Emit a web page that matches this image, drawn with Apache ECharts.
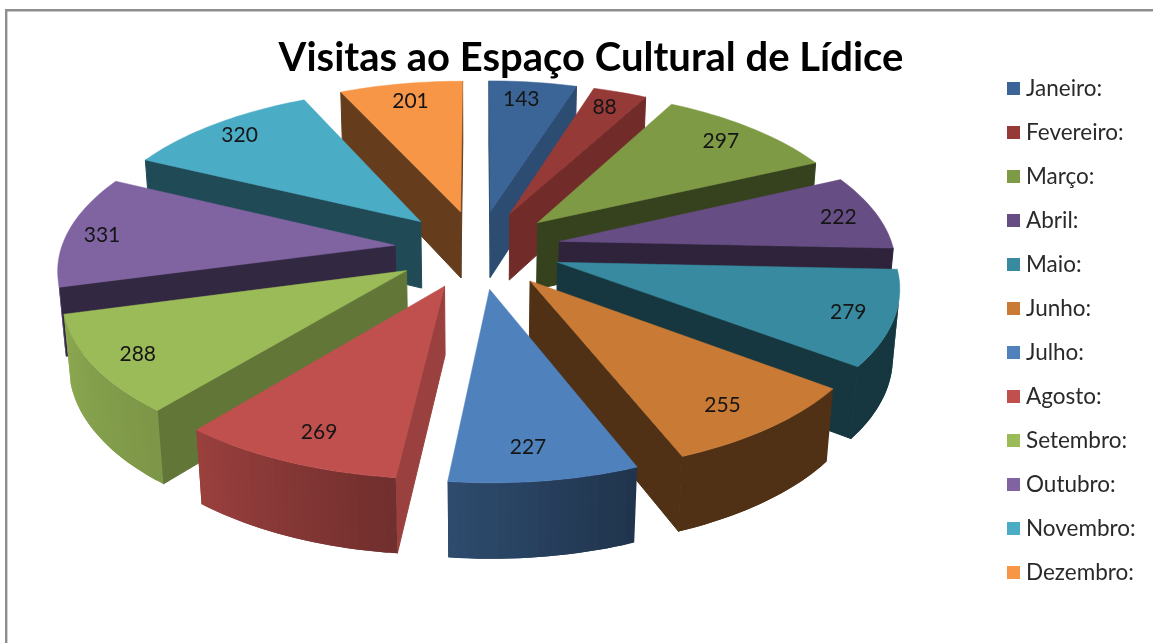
<!DOCTYPE html>
<html>
<head>
<meta charset="utf-8">
<style>
html, body { margin: 0; padding: 0; background: #fff; }
#main { width: 1153px; height: 643px; }
</style>
<script src="https://cdn.jsdelivr.net/npm/echarts@6/dist/echarts.min.js"></script>
</head>
<body>
<div id="main"></div>
<script>
var months = ['Janeiro:', 'Fevereiro:', 'Março:', 'Abril:', 'Maio:', 'Junho:', 'Julho:', 'Agosto:', 'Setembro:', 'Outubro:', 'Novembro:', 'Dezembro:'];
var visits = [143, 88, 297, 222, 279, 255, 227, 269, 288, 331, 320, 201];

var palette = ['#3B6596', '#963A38', '#7E9A45', '#664D84', '#378A9F', '#C97A35', '#4F81BD', '#C0504D', '#9BBB59', '#8064A2', '#4BACC6', '#F79646'];
// darkening of the flat cut faces, month by month
var sideShade = [0.75, 0.75, 0.43, 0.45, 0.4, 0.4, 0.4, 0.8, 0.63, 0.4, 0.43, 0.41];
// darkening of the round outer wall: [angle from north, factor]
var wallShade = [[0, 0.4], [158, 0.4], [186, 0.58], [219, 0.8], [255, 0.9], [360, 0.9]];
// small pixel nudges of the value labels off the slice's middle line
var labelNudge = [[-7, 2], [-3, 1], [-6, 2], [2, 2], [-2, 1], [-14, -2], [-9, -6], [10, -5], [3, 1], [-7, 2], [0, 0], [3, 3]];

// camera for the tilted pie
var CX = 478, CY = 249, SCALE = 417.5;
var TILT = 28 * Math.PI / 180, DIST = 5.4;
var EXPLODE = 0.2, RADIUS = 0.8, THICK = 0.186, LABEL_R = 0.9;

var total = visits.reduce(function (a, b) { return a + b; }, 0);

function project(u, v, w) {
    var depth = v * Math.cos(TILT) + w * Math.sin(TILT);
    var k = 1 / (1 - depth / DIST);
    return [CX + SCALE * u * k, CY + SCALE * (v * Math.sin(TILT) - w * Math.cos(TILT)) * k];
}

function shade(hex, f) {
    var n = parseInt(hex.slice(1), 16);
    var r = Math.round((n >> 16 & 255) * f), g = Math.round((n >> 8 & 255) * f), b = Math.round((n & 255) * f);
    return 'rgb(' + r + ',' + g + ',' + b + ')';
}

function wallFactor(deg) {
    for (var i = 1; i < wallShade.length; i++) {
        if (deg <= wallShade[i][0]) {
            var a = wallShade[i - 1], b = wallShade[i];
            return a[1] + (b[1] - a[1]) * (deg - a[0]) / (b[0] - a[0]);
        }
    }
    return 0.9;
}

function sliceAngles(index) {
    var before = 0;
    for (var i = 0; i < index; i++) before += visits[i];
    var a0 = before / total * Math.PI * 2;
    return { a0: a0, a1: a0 + visits[index] / total * Math.PI * 2 };
}

function renderSlice(params, api) {
    var idx = params.seriesIndex;
    var value = api.value(0);
    var ang = sliceAngles(idx);
    var mid = (ang.a0 + ang.a1) / 2;
    var ax = EXPLODE * Math.sin(mid), ay = -EXPLODE * Math.cos(mid);
    var color = palette[idx];
    var children = [];

    // outline walking clockwise seen from above: apex, arc, back to apex
    var rim = [[ax, ay]];
    var steps = Math.ceil((ang.a1 - ang.a0) / (Math.PI / 120));
    for (var i = 0; i <= steps; i++) {
        var a = ang.a0 + (ang.a1 - ang.a0) * i / steps;
        rim.push([ax + RADIUS * Math.sin(a), ay - RADIUS * Math.cos(a), a]);
    }

    var topPts = rim.map(function (p) { return project(p[0], p[1], 0); });
    var botPts = rim.map(function (p) { return project(p[0], p[1], -THICK); });
    var n = rim.length;
    for (var j = 0; j < n; j++) {
        var k = (j + 1) % n;
        var quad = [topPts[j], topPts[k], botPts[k], botPts[j]];
        var area = 0;
        for (var q = 0; q < 4; q++) {
            var p1 = quad[q], p2 = quad[(q + 1) % 4];
            area += p1[0] * p2[1] - p2[0] * p1[1];
        }
        if (area >= 0) continue;
        var isSide = j === 0 || j === n - 1;
        var f = isSide ? sideShade[idx] : wallFactor((rim[j][2] + rim[k][2]) / 2 * 180 / Math.PI);
        var fill = shade(color, f);
        // wall strips reach one step further so no seam shows between them
        var m = k + 1;
        if (!isSide && m < n) quad = [topPts[j], topPts[k], topPts[m], botPts[m], botPts[k], botPts[j]];
        children.push({
            type: 'polygon',
            shape: { points: quad },
            style: isSide ? { fill: fill, stroke: fill, lineWidth: 1 } : { fill: fill }
        });
    }

    children.push({
        type: 'polygon',
        shape: { points: topPts },
        style: { fill: color, stroke: color, lineWidth: 0.5 }
    });

    var lp = project(LABEL_R * Math.sin(mid), -LABEL_R * Math.cos(mid), 0);
    children.push({
        type: 'text',
        style: {
            text: String(value), x: lp[0] + labelNudge[idx][0], y: lp[1] + labelNudge[idx][1],
            align: 'center', verticalAlign: 'middle',
            fontFamily: 'Lato', fontSize: 21, fill: '#151515'
        }
    });

    return { type: 'group', children: children };
}

// back slices first, so the near ones cover them
var order = visits.map(function (v, i) {
    var ang = sliceAngles(i);
    return { i: i, depth: -Math.cos((ang.a0 + ang.a1) / 2) };
}).sort(function (a, b) { return a.depth - b.depth; });
var zOf = [];
order.forEach(function (o, rank) { zOf[o.i] = 2 + rank; });

var series = months.map(function (name, i) {
    return {
        name: name,
        type: 'custom',
        coordinateSystem: 'none',
        z: zOf[i],
        silent: true,
        itemStyle: { color: palette[i] },
        data: [[visits[i]]],
        renderItem: renderSlice
    };
});

var chart = echarts.init(document.getElementById('main'));
chart.setOption({
    animation: false,
    backgroundColor: '#fff',
    color: palette,
    title: {
        text: 'Visitas ao Espaço Cultural de Lídice',
        left: 586,
        top: 33,
        textAlign: 'center',
        textStyle: { fontFamily: 'Lato', fontWeight: 'bold', fontSize: 40, color: '#000' }
    },
    legend: {
        orient: 'vertical',
        left: 1007,
        top: 77,
        padding: 0,
        itemWidth: 13,
        itemHeight: 13,
        itemGap: 21,
        selectedMode: false,
        icon: 'rect',
        data: months,
        textStyle: { fontFamily: 'Lato', fontSize: 22.5, color: '#2a2a2a', lineHeight: 23, padding: [0, 0, 0, 1] }
    },
    graphic: [{
        type: 'polyline',
        z: 0,
        shape: { points: [[6.2, 643], [6.2, 10.2], [1153, 10.2]] },
        style: { stroke: '#8e8e8e', lineWidth: 2.4, fill: null }
    }],
    series: series
});
</script>
</body>
</html>
